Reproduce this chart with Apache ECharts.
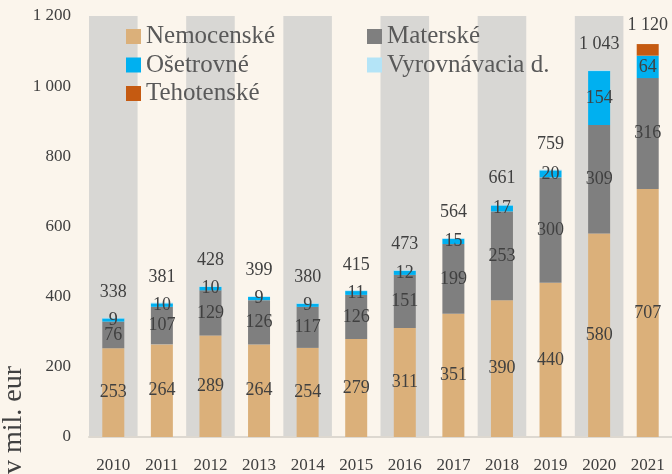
<!DOCTYPE html>
<html>
<head>
<meta charset="utf-8">
<script src="https://cdn.jsdelivr.net/npm/echarts@6/dist/echarts.min.js"></script>
<style>
html,body{margin:0;padding:0;background:#FBF5EC;}
#c{width:672px;height:474px;}
</style>
</head>
<body>
<div id="c"></div>
<script>
const years = ['2010','2011','2012','2013','2014','2015','2016','2017','2018','2019','2020','2021'];
const nemocenske = [253, 264, 289, 264, 254, 279, 311, 351, 390, 440, 580, 707];
const materske = [76, 107, 129, 126, 117, 126, 151, 199, 253, 300, 309, 316];
const osetrovne = [9, 10, 10, 9, 9, 11, 12, 15, 17, 20, 154, 64];
const vyrovnavacia = [2, 2, 2, 2, 2, 2, 2, 2, 2, 2, 2, 0];
const tehotenske = [0, 0, 0, 0, 0, 0, 0, 0, 0, 0, 0, 33];
const totals = [338, 381, 428, 399, 380, 415, 473, 564, 661, 759, 1043, 1120];
const yTicks = [0, 200, 400, 600, 800, 1000, 1200];

const FONT = '"Liberation Serif", "DejaVu Serif", serif';
const TXT = '#404040';
const fmt = v => String(v).replace(/\B(?=(\d{3})+(?!\d))/g, ' ');

const chart = echarts.init(document.getElementById('c'), null, {renderer: 'canvas'});

const segLabel = {show: true, position: 'inside', color: TXT, fontSize: 18, fontFamily: FONT};
const BW = 22;

chart.setOption({
  backgroundColor: '#FBF5EC',
  animation: false,
  textStyle: {fontFamily: FONT},
  grid: {left: 89, top: 16, width: 586, height: 422, containLabel: false},
  legend: [
    {
      data: ['Nemocenské', 'Ošetrovné', 'Tehotenské'],
      orient: 'vertical', left: 121, top: 19,
      itemWidth: 15, itemHeight: 15, itemGap: 3.5, icon: 'rect',
      textStyle: {fontSize: 25, lineHeight: 25, color: '#595959', fontFamily: FONT},
      selectedMode: false
    },
    {
      data: ['Materské', 'Vyrovnávacia d.'],
      orient: 'vertical', left: 362, top: 19,
      itemWidth: 15, itemHeight: 15, itemGap: 3.5, icon: 'rect',
      textStyle: {fontSize: 25, lineHeight: 25, color: '#595959', fontFamily: FONT},
      selectedMode: false
    }
  ],
  xAxis: {
    type: 'category', data: years, boundaryGap: true,
    axisLine: {show: true, lineStyle: {color: '#DDD8D0', width: 2}},
    axisTick: {show: false},
    axisLabel: {color: TXT, fontSize: 17, fontFamily: FONT, margin: 20},
    splitArea: {show: true, areaStyle: {color: ['#D8D7D4', 'rgba(0,0,0,0)']}},
    splitLine: {show: false}
  },
  yAxis: {
    type: 'value', min: yTicks[0], max: yTicks[yTicks.length - 1], interval: 200,
    axisLine: {show: false}, axisTick: {show: false}, splitLine: {show: false},
    axisLabel: {color: TXT, fontSize: 17, fontFamily: FONT, margin: 18, formatter: v => fmt(v)}
  },
  graphic: [{
    type: 'text', rotation: Math.PI / 2,
    x: 14, y: 420,
    style: {text: 'v mil. eur', font: '28px ' + FONT, fill: TXT, textAlign: 'center', textVerticalAlign: 'middle'}
  }],
  series: [
    {name: 'Nemocenské', type: 'bar', stack: 's', barWidth: BW, data: nemocenske,
     itemStyle: {color: '#DBB07A'}, label: segLabel},
    {name: 'Materské', type: 'bar', stack: 's', barWidth: BW, data: materske,
     itemStyle: {color: '#7F7F7F'}, label: segLabel},
    {name: 'Ošetrovné', type: 'bar', stack: 's', barWidth: BW, data: osetrovne,
     itemStyle: {color: '#00B0F0'}, label: segLabel},
    {name: 'Vyrovnávacia d.', type: 'bar', stack: 's', barWidth: BW, data: vyrovnavacia,
     itemStyle: {color: '#B4E4F7'}},
    {name: 'Tehotenské', type: 'bar', stack: 's', barWidth: BW, data: tehotenske,
     itemStyle: {color: '#C55A11'}},
    {name: 'total', type: 'scatter', symbolSize: 1, itemStyle: {color: 'rgba(0,0,0,0)', opacity: 1},
     data: totals.map((v, i) => ({value: v, label: {distance: i === totals.length - 1 ? 9 : 17}})),
     label: {show: true, position: 'top', color: TXT, opacity: 1, fontSize: 18, fontFamily: FONT,
             formatter: p => fmt(p.value)},
     z: 5}
  ]
});
</script>
</body>
</html>
